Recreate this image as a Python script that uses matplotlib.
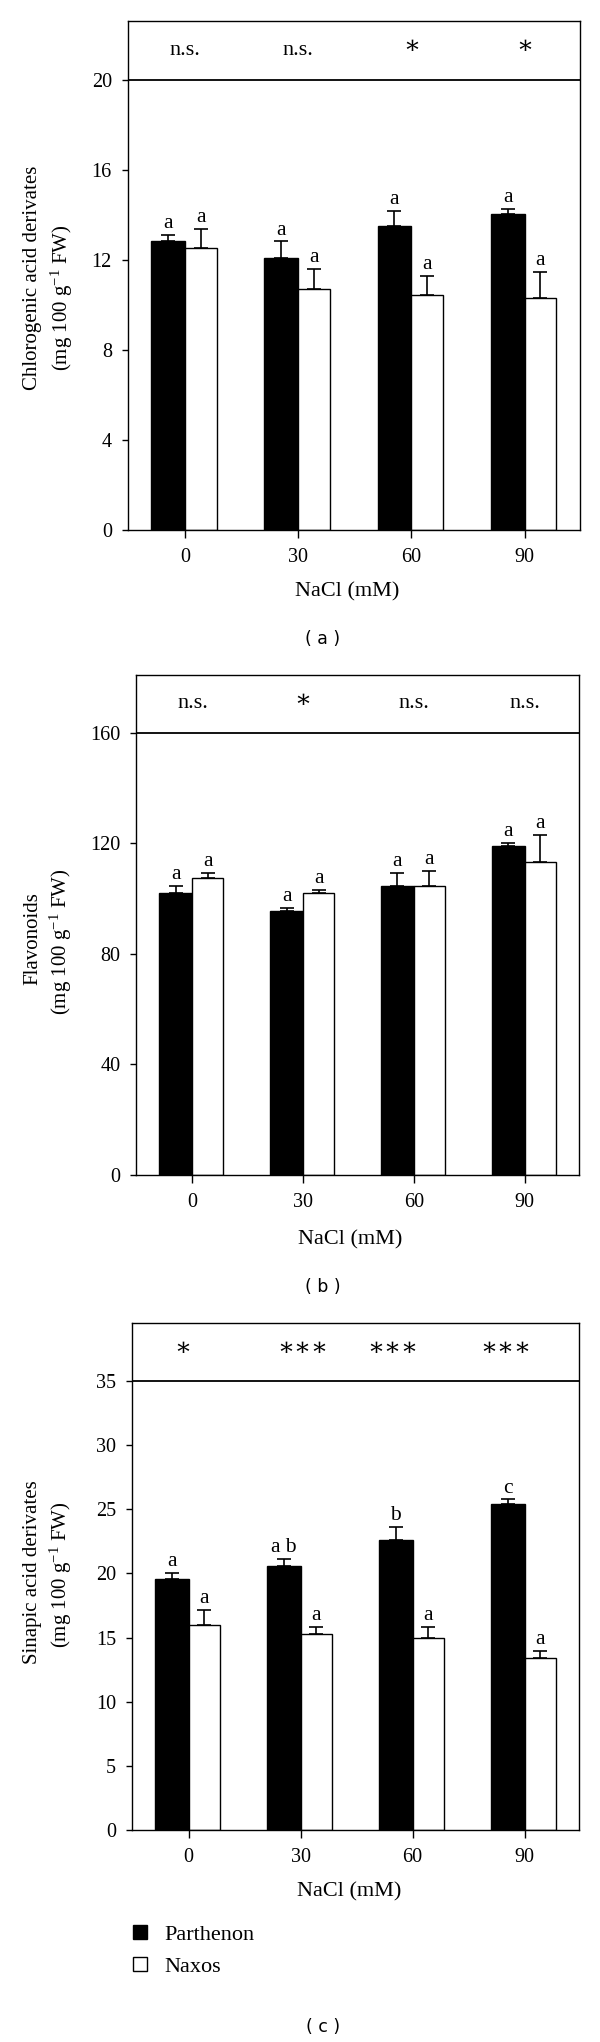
import numpy as np
import matplotlib
matplotlib.use("Agg")
import matplotlib.pyplot as plt

plt.rcParams['font.family'] = ['Liberation Serif', 'DejaVu Serif']
plt.rcParams['mathtext.fontset'] = 'custom'
plt.rcParams['mathtext.rm'] = 'Liberation Serif'
plt.rcParams['mathtext.it'] = 'Liberation Serif:italic'
plt.rcParams['mathtext.bf'] = 'Liberation Serif:bold'

# ---------------- data ----------------
nacl = ["0", "30", "60", "90"]
series = ["Parthenon", "Naxos"]

chloro_parth = [12.83, 12.07, 13.52, 14.04]
chloro_parth_err = [0.28, 0.74, 0.65, 0.21]
chloro_naxos = [12.52, 10.68, 10.44, 10.30]
chloro_naxos_err = [0.83, 0.93, 0.84, 1.14]
chloro_parth_let = ["a", "a", "a", "a"]
chloro_naxos_let = ["a", "a", "a", "a"]
chloro_sig = ["n.s.", "n.s.", "\u2217", "\u2217"]
chloro_yticks = [0, 4, 8, 12, 16, 20]

flav_parth = [101.9, 95.3, 104.6, 118.8]
flav_parth_err = [2.7, 1.1, 4.5, 1.2]
flav_naxos = [107.3, 101.9, 104.6, 113.2]
flav_naxos_err = [2.0, 1.2, 5.3, 9.6]
flav_parth_let = ["a", "a", "a", "a"]
flav_naxos_let = ["a", "a", "a", "a"]
flav_sig = ["n.s.", "\u2217", "n.s.", "n.s."]
flav_yticks = [0, 40, 80, 120, 160]

sinap_parth = [19.60, 20.62, 22.62, 25.38]
sinap_parth_err = [0.42, 0.52, 0.99, 0.39]
sinap_naxos = [15.99, 15.29, 14.98, 13.39]
sinap_naxos_err = [1.15, 0.57, 0.85, 0.57]
sinap_parth_let = ["a", "a b", "b", "c"]
sinap_naxos_let = ["a", "a", "a", "a"]
sinap_sig = ["\u2217", "\u2217\u2217\u2217", "\u2217\u2217\u2217", "\u2217\u2217\u2217"]
sinap_yticks = [0, 5, 10, 15, 20, 25, 30, 35]

# ---------------- layout ----------------
W, H = 600, 2042
fig = plt.figure(figsize=(W / 100, H / 100), dpi=100)

BW_P = 0.30
BW_N = 0.28
FS = 15
LFS = 15.5
SFS = 16
AFS = 18
TFS = 14.5


def fx(x):
    return x / W


def fy(y):
    return 1 - y / H


def panel(rect, parth, perr, naxos, nerr, plet, nlet, sig, sig_dx, yticks,
          ylab1, ylab2, lab1_pos, lab2_pos, xlab_pos, tag, tag_pos):
    left, right, top, bottom = rect
    ax = fig.add_axes([fx(left), fy(bottom), (right - left) / W, (bottom - top) / H])
    x = np.arange(len(nacl))
    ymax = yticks[-1]
    ytop = ymax * 1.13
    bp = ax.bar(x, parth, width=-BW_P, align='edge', color='black',
                edgecolor='black', linewidth=1.0, label=series[0], zorder=2)
    bn = ax.bar(x, naxos, width=BW_N, align='edge', color='white',
                edgecolor='black', linewidth=1.0, label=series[1], zorder=2)
    z = np.zeros(len(x))
    ax.errorbar(x - BW_P / 2, parth, yerr=[z, perr], fmt='none', ecolor='black',
                elinewidth=1.2, capsize=4.7, capthick=1.2, zorder=3)
    ax.errorbar(x + BW_N / 2, naxos, yerr=[z, nerr], fmt='none', ecolor='black',
                elinewidth=1.2, capsize=4.7, capthick=1.2, zorder=3)
    for i in range(len(x)):
        ax.annotate(plet[i], xy=(x[i] - BW_P / 2, parth[i] + perr[i]), xytext=(0, 5),
                    textcoords='offset points', ha='center', va='baseline', fontsize=LFS)
        ax.annotate(nlet[i], xy=(x[i] + BW_N / 2, naxos[i] + nerr[i]), xytext=(0, 5),
                    textcoords='offset points', ha='center', va='baseline', fontsize=LFS)
        is_star = sig[i].startswith("\u2217")
        ax.text(x[i] + sig_dx[i], ymax + (ytop - ymax) * (0.55 if is_star else 0.5),
                sig[i], ha='center', va='center',
                fontsize=AFS if is_star else SFS,
                family=['Liberation Serif', 'DejaVu Serif'])
    ax.axhline(ymax, color='black', lw=1.3, zorder=4)
    ax.set_xlim(-0.51, 3.49)
    ax.set_ylim(0, ytop)
    ax.set_yticks(yticks)
    ax.set_xticks(x)
    ax.set_xticklabels(nacl)
    ax.tick_params(axis='y', direction='out', length=4.3, width=1.0, pad=7, labelsize=TFS)
    ax.tick_params(axis='x', direction='out', length=5.8, width=1.0, pad=7, labelsize=TFS)
    for s in ax.spines.values():
        s.set_linewidth(1.0)
        s.set_color('black')
    fig.text(fx(lab1_pos[0]), fy(lab1_pos[1]), ylab1, rotation=90, ha='center',
             va='center', fontsize=FS)
    fig.text(fx(lab2_pos[0]), fy(lab2_pos[1]), ylab2, rotation=90, ha='center',
             va='center', fontsize=FS)
    fig.text(fx(xlab_pos[0]), fy(xlab_pos[1]), "NaCl (mM)", ha='center', va='center',
             fontsize=16)
    fig.text(fx(tag_pos[0]), fy(tag_pos[1]), tag, ha='center', va='center',
             fontsize=12.5, family='DejaVu Sans')
    return ax, bp, bn


unit = r"(mg 100 g$^{-1}$ FW)"

panel((127.5, 580, 21, 530), chloro_parth, chloro_parth_err, chloro_naxos, chloro_naxos_err,
      chloro_parth_let, chloro_naxos_let, chloro_sig, [0, 0, 0, 0], chloro_yticks,
      "Chlorogenic acid derivates", unit, (33, 278), (62, 298), (347.5, 591.7),
      "( a )", (322.6, 639))

panel((136, 579, 675, 1175), flav_parth, flav_parth_err, flav_naxos, flav_naxos_err,
      flav_parth_let, flav_naxos_let, flav_sig, [0, 0, 0, 0], flav_yticks,
      "Flavonoids", unit, (33, 939), (61, 942), (350, 1240),
      "( b )", (322.6, 1286.7))

ax3, bp3, bn3 = panel((131.6, 579.4, 1322.7, 1830), sinap_parth, sinap_parth_err,
                      sinap_naxos, sinap_naxos_err, sinap_parth_let, sinap_naxos_let,
                      sinap_sig, [-0.05, 0.02, -0.18, -0.17], sinap_yticks,
                      "Sinapic acid derivates", unit, (33, 1572), (61, 1575), (349, 1892),
                      "( c )", (322.6, 2027.3))

ax3.legend(handles=[bp3, bn3], labels=series, loc='upper left',
           bbox_to_anchor=(fx(132.8), fy(1925)), bbox_transform=fig.transFigure,
           frameon=False, fontsize=16, handlelength=0.62, handleheight=0.6,
           handletextpad=0.8, labelspacing=0.55, borderpad=0, borderaxespad=0)

fig.savefig("out.png", dpi=100)
